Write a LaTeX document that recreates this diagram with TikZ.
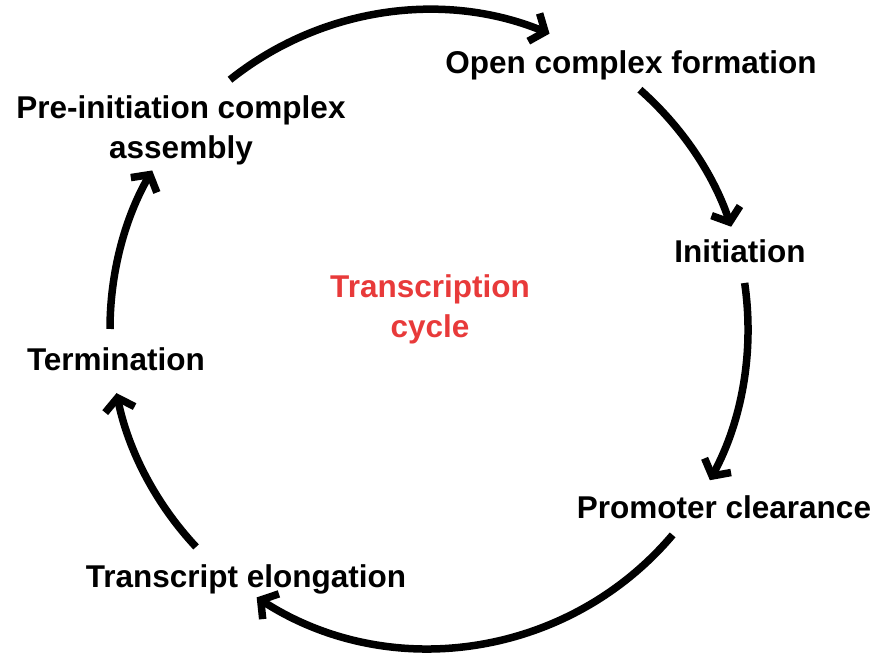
\documentclass[tikz,border=0pt]{standalone}
\usepackage{fontspec}
\setmainfont{Liberation Sans}
\usetikzlibrary{arrows.meta,calc}
\definecolor{cyclered}{RGB}{232,58,58}
\tikzset{
  lbl/.style={font=\fontsize{31.5}{40}\selectfont\bfseries, inner sep=0pt, align=center, anchor=base},
  cyc/.style={line width=7.5pt, -{Straight Barb[length=12pt,width=30pt]}},
}
\begin{document}
\begin{tikzpicture}[x=1pt,y=1pt]
\useasboundingbox (0,0) rectangle (875,655);
\coordinate (C) at (429,326);
\def\R{319}
% labels
\node[lbl] (open) at (631,581) {Open complex formation};
\node[lbl] (pre) at (181,496) {Pre-initiation complex\\assembly};
\node[lbl] (init) at (740,392) {Initiation};
\node[lbl, text=cyclered] (tc) at (430,317) {Transcription\\cycle};
\node[lbl] (term) at (116,284) {Termination};
\node[lbl] (prom) at (724,136) {Promoter clearance};
\node[lbl] (elong) at (246,67) {Transcript elongation};
% arc endpoints
\coordinate (a1) at ($(C)+(128.6:\R)$);
\coordinate (a2) at ($(C)+(48.6:\R)$);
\coordinate (a3) at ($(C)+(8.3:\R)$);
\coordinate (a4) at ($(C)+(-40.2:\R)$);
\coordinate (a5) at ($(C)+(223.1:\R)$);
\coordinate (a6) at ($(C)+(180:\R)$);
% arrows
\draw[cyc] (a1) arc[start angle=128.6, end angle=67.8, radius=\R];
\draw[cyc] (a2) arc[start angle=48.6, end angle=18.7, radius=\R];
\draw[cyc] (a3) arc[start angle=8.3, end angle=-28.3, radius=\R];
\draw[cyc] (a4) arc[start angle=-40.2, end angle=-122.7, radius=\R];
\draw[cyc] (a5) arc[start angle=223.1, end angle=191.6, radius=\R];
\draw[cyc] (a6) arc[start angle=180, end angle=150.2, radius=\R];
\end{tikzpicture}
\end{document}
